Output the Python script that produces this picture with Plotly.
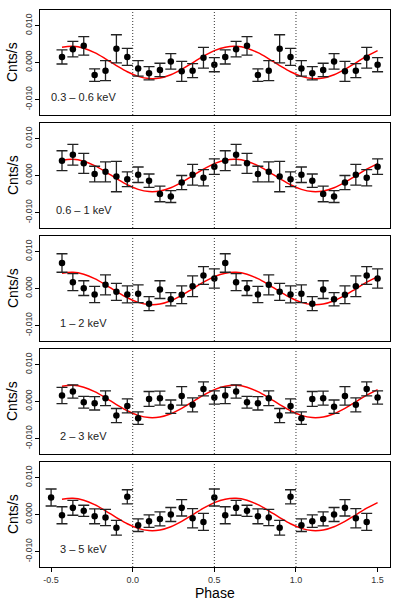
import plotly.graph_objects as go
from plotly.subplots import make_subplots

# ---- data (one folded cycle per band, shown twice) ----
BANDS = ["0.3 – 0.6 keV", "0.6 – 1 keV", "1 – 2 keV", "2 – 3 keV", "3 – 5 keV"]

# phase bin centres for panels 1-4 and for panel 5 (one cycle)
PHASE_A = [-0.4333, -0.3667, -0.3, -0.2333, -0.1667, -0.1, -0.0333, 0.0333,
           0.1, 0.1667, 0.2333, 0.3, 0.3667, 0.4333, 0.5]
PHASE_B = [-0.5, -0.4333, -0.3667, -0.3, -0.2333, -0.1667, -0.1, -0.0333,
           0.0333, 0.1, 0.1667, 0.2333, 0.3, 0.3667, 0.4333]

RATE_03_06 = [0.0015, 0.0036, 0.0045, -0.0034, -0.0022, 0.0037, 0.0015, -0.0016,
              -0.0029, -0.0020, 0.0003, -0.0024, -0.0022, 0.0013, -0.0006]
ERR_03_06 = [0.0019, 0.0021, 0.0025, 0.0017, 0.0027, 0.0038, 0.0023, 0.0021,
             0.0018, 0.0018, 0.0021, 0.0027, 0.0019, 0.0028, 0.0019]

RATE_06_1 = [0.0040, 0.0056, 0.0033, 0.0004, 0.0010, -0.0003, -0.0010, 0.0002,
             -0.0014, -0.0050, -0.0057, -0.0019, 0.0002, -0.0006, 0.0024]
ERR_06_1 = [0.0027, 0.0028, 0.0027, 0.0021, 0.0027, 0.0041, 0.0020, 0.0021,
            0.0018, 0.0021, 0.0016, 0.0019, 0.0028, 0.0022, 0.0021]

RATE_1_2 = [0.0069, 0.0017, 0.0001, -0.0016, 0.0010, -0.0009, -0.0016, -0.0014,
            -0.0041, -0.0003, -0.0029, -0.0017, 0.0006, 0.0035, 0.0027]
ERR_1_2 = [0.0025, 0.0023, 0.0020, 0.0022, 0.0027, 0.0023, 0.0023, 0.0024,
           0.0019, 0.0024, 0.0018, 0.0024, 0.0028, 0.0024, 0.0026]

RATE_2_3 = [0.0016, 0.0027, -0.0002, -0.0005, 0.0009, -0.0038, -0.0012, -0.0045,
            0.0007, 0.0009, -0.0014, 0.0015, -0.0009, 0.0034, 0.0011]
ERR_2_3 = [0.0022, 0.0018, 0.0016, 0.0018, 0.0020, 0.0019, 0.0019, 0.0017,
           0.0020, 0.0019, 0.0018, 0.0025, 0.0019, 0.0019, 0.0018]

RATE_3_5 = [0.0046, -0.0002, 0.0018, 0.0010, -0.0005, -0.0008, -0.0036, 0.0048,
            -0.0029, -0.0018, -0.0012, 0.0000, 0.0018, -0.0010, -0.0020]
ERR_3_5 = [0.0023, 0.0023, 0.0020, 0.0015, 0.0020, 0.0022, 0.0020, 0.0019,
           0.0017, 0.0017, 0.0019, 0.0019, 0.0022, 0.0026, 0.0023]

# sinusoidal model (same in all panels), one cycle read at PHASE_A
MODEL_CYCLE = [0.00415, 0.00438, 0.00385, 0.00266, 0.00100, -0.00082, -0.00251,
               -0.00376, -0.00436, -0.00421, -0.00333, -0.00187, -0.00009,
               0.00171, 0.00321]

X_TICKS = [-0.5, 0.0, 0.5, 1.0, 1.5]
X_TICKTEXT = ["-0.5", "0.0", "0.5", "1.0", "1.5"]
Y_TICKS = [-0.01, 0.0, 0.01]
Y_TICKTEXT = ["-0.010", "0.000", "0.010"]
VLINES = [0.0, 0.5, 1.0]

RATES = [RATE_03_06, RATE_06_1, RATE_1_2, RATE_2_3, RATE_3_5]
ERRS = [ERR_03_06, ERR_06_1, ERR_1_2, ERR_2_3, ERR_3_5]
PHASES = [PHASE_A, PHASE_A, PHASE_A, PHASE_A, PHASE_B]

FONT = "Liberation Sans, Arial, Helvetica, sans-serif"

W, H = 402, 603
ML, MR, MT, MB = 40, 12, 10, 36
plot_h = H - MT - MB
fig = make_subplots(rows=5, cols=1, shared_xaxes=True,
                    vertical_spacing=8 / plot_h)

model_x = PHASE_A + [p + 1 for p in PHASE_A]
model_y = MODEL_CYCLE + MODEL_CYCLE

for i in range(5):
    r = i + 1
    ph = PHASES[i]
    x = ph + [p + 1 for p in ph]
    y = RATES[i] + RATES[i]
    e = ERRS[i] + ERRS[i]
    fig.add_trace(go.Scatter(
        x=model_x, y=model_y, mode="lines", line_shape="spline",
        line=dict(color="#ff0000", width=1.5), hoverinfo="skip",
        showlegend=False), row=r, col=1)
    fig.add_trace(go.Scatter(
        x=x, y=y, mode="markers",
        marker=dict(color="black", size=6.5),
        error_y=dict(type="data", array=e, visible=True, color="#222222",
                     thickness=1.3, width=5.5),
        showlegend=False), row=r, col=1)
    for v in VLINES:
        fig.add_vline(x=v, line=dict(color="#333333", width=1, dash="1px,2px"),
                      row=r, col=1)
    yref = "y" if r == 1 else f"y{r}"
    xref = "x" if r == 1 else f"x{r}"
    fig.add_annotation(x=-0.3, y=-0.0092, xref=xref, yref=yref,
                       text=BANDS[i], showarrow=False,
                       font=dict(size=11, color="#222222", family=FONT),
                       xanchor="center", yanchor="middle")
    fig.add_annotation(x=(12.5 - ML) / (W - ML - MR), y=0.5,
                       xref="paper", yref=f"{yref} domain",
                       text="Cnts/s", showarrow=False, textangle=-90,
                       font=dict(size=14, color="black", family=FONT),
                       xanchor="center", yanchor="middle")
    fig.update_yaxes(range=[-0.0142, 0.0142], tickvals=Y_TICKS,
                     ticktext=Y_TICKTEXT, tickangle=-90, ticks="outside",
                     ticklen=4, tickwidth=1, tickcolor="black",
                     tickfont=dict(size=8.5, color="#333333", family=FONT),
                     showline=True, mirror=True, linecolor="black",
                     linewidth=1, showgrid=False, zeroline=False,
                     automargin=False, row=r, col=1)
    fig.update_xaxes(range=[-0.568, 1.576], showline=True, mirror=True,
                     linecolor="black", linewidth=1, showgrid=False,
                     zeroline=False, automargin=False, row=r, col=1)
    if r == 5:
        fig.update_xaxes(tickvals=X_TICKS, ticktext=X_TICKTEXT,
                         showticklabels=True, ticks="outside", ticklen=4,
                         tickwidth=1, tickcolor="black",
                         tickfont=dict(size=9, color="#333333", family=FONT),
                         row=r, col=1)
    else:
        fig.update_xaxes(showticklabels=False, ticks="", row=r, col=1)

fig.add_annotation(x=0.5, y=-(593 - (H - MB)) / plot_h, xref="paper",
                   yref="paper", text="Phase", showarrow=False,
                   font=dict(size=14, color="black", family=FONT),
                   xanchor="center", yanchor="middle")

fig.update_layout(width=W, height=H,
                  margin=dict(l=ML, r=MR, t=MT, b=MB, autoexpand=False),
                  paper_bgcolor="white", plot_bgcolor="white",
                  font=dict(family=FONT))

fig.write_html(
    "out.html",
    config={"displayModeBar": False},
    post_script="document.body.style.margin='0';document.body.style.padding='0';"
                "document.documentElement.style.overflow='hidden';")
